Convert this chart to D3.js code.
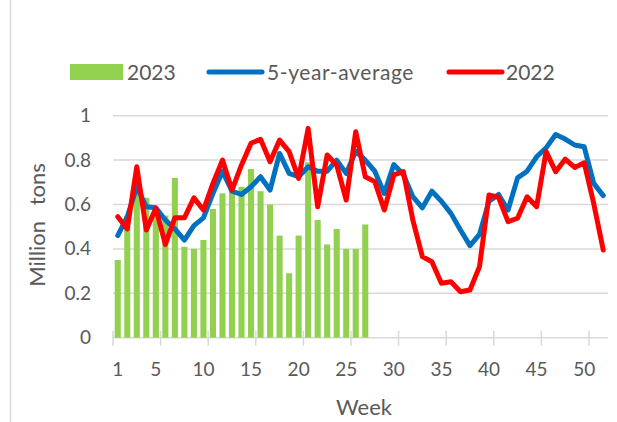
<!DOCTYPE html>
<html><head><meta charset="utf-8">
<script src="https://cdn.jsdelivr.net/npm/d3@7"></script>
<style>
html,body{margin:0;padding:0;background:#fff;}
text{font-family:Lato,"Noto Sans",sans-serif;fill:#595959;}
</style></head>
<body><svg id="c" width="617" height="422"></svg>
<script>
const weeks = d3.range(1, 53);
const xTickLabels = [1, 5, 10, 15, 20, 25, 30, 35, 40, 45, 50];
const yTicks = [0, 0.2, 0.4, 0.6, 0.8, 1];
const seriesNames = ["2023", "5-year-average", "2022"];
const values2023 = [0.35, 0.55, 0.67, 0.63, 0.58, 0.55, 0.72, 0.41, 0.40, 0.44,
  0.58, 0.65, 0.69, 0.68, 0.76, 0.66, 0.60, 0.46, 0.29, 0.46,
  0.79, 0.53, 0.42, 0.49, 0.40, 0.40, 0.51];
const avg5 = [0.46, 0.545, 0.68, 0.59, 0.585, 0.53, 0.49, 0.44, 0.505, 0.54,
  0.65, 0.75, 0.66, 0.645, 0.68, 0.725, 0.665, 0.83, 0.74, 0.725,
  0.77, 0.75, 0.75, 0.80, 0.74, 0.84, 0.80, 0.75, 0.65, 0.78,
  0.735, 0.635, 0.585, 0.66, 0.615, 0.56, 0.485, 0.415, 0.465, 0.615,
  0.645, 0.575, 0.72, 0.75, 0.815, 0.855, 0.915, 0.895, 0.868, 0.86,
  0.695, 0.64];
const values2022 = [0.545, 0.49, 0.77, 0.485, 0.583, 0.42, 0.54, 0.54, 0.63, 0.575,
  0.695, 0.80, 0.665, 0.778, 0.876, 0.894, 0.793, 0.89, 0.838, 0.718,
  0.943, 0.59, 0.823, 0.778, 0.62, 0.928, 0.725, 0.703, 0.575, 0.733,
  0.748, 0.53, 0.365, 0.342, 0.245, 0.252, 0.207, 0.215, 0.32, 0.643,
  0.632, 0.523, 0.538, 0.635, 0.59, 0.838, 0.748, 0.804, 0.767, 0.788,
  0.605, 0.395];

const colors = {"2023": "#92D050", "5-year-average": "#0070C0", "2022": "#FF0000"};
const svg = d3.select("#c");

// chart border (left edge visible)
svg.append("line").attr("x1", 10.5).attr("x2", 10.5).attr("y1", 0).attr("y2", 422)
  .attr("stroke", "#D9D9D9").attr("stroke-width", 1.5);

const x = d3.scaleBand().domain(weeks).range([113, 608]).padding(0);
const y = d3.scaleLinear().domain([0, 1]).range([337.7, 115.7]);

// gridlines
svg.append("g").selectAll("line").data(yTicks).join("line")
  .attr("x1", 113).attr("x2", 608)
  .attr("y1", d => y(d)).attr("y2", d => y(d))
  .attr("stroke", "#D9D9D9").attr("stroke-width", 1.5);

// y axis labels
const yAxis = d3.axisLeft(y).tickValues(yTicks).tickSize(0).tickPadding(0)
  .tickFormat(d => d === 0 ? "0" : d === 1 ? "1" : d.toFixed(1));
const gy = svg.append("g").attr("transform", "translate(91,0)").call(yAxis);
gy.select(".domain").remove();
gy.selectAll("text").style("font-size", "19px").attr("fill", "#595959");

// bars
const bw = x.bandwidth() * 0.64;
svg.append("g").selectAll("rect").data(values2023).join("rect")
  .attr("x", (d, i) => x(weeks[i]) + (x.bandwidth() - bw) / 2)
  .attr("width", bw)
  .attr("y", d => y(d))
  .attr("height", d => y(0) - y(d))
  .attr("fill", colors["2023"]);

// x axis: tick marks at category boundaries every 5 weeks
const boundaryWeeks = [1, 6, 11, 16, 21, 26, 31, 36, 41, 46, 51];
svg.append("g").selectAll("line").data(boundaryWeeks).join("line")
  .attr("x1", d => x(d)).attr("x2", d => x(d))
  .attr("y1", y(0) - 7).attr("y2", y(0) + 8)
  .attr("stroke", "#D9D9D9").attr("stroke-width", 1.5);

const xAxis = d3.axisBottom(x).tickValues(xTickLabels).tickSize(0).tickPadding(0);
const gx = svg.append("g").attr("transform", `translate(0,${y(0) + 25})`).call(xAxis);
gx.select(".domain").remove();
gx.selectAll("text").style("font-size", "19px").attr("fill", "#595959");

// lines
const line = d3.line().x((d, i) => x(weeks[i]) + x.bandwidth() / 2).y(d => y(d))
  .curve(d3.curveLinear);
svg.append("path").datum(avg5).attr("d", line).attr("fill", "none")
  .attr("stroke", colors["5-year-average"]).attr("stroke-width", 5)
  .attr("stroke-linejoin", "round").attr("stroke-linecap", "round");
svg.append("path").datum(values2022).attr("d", line).attr("fill", "none")
  .attr("stroke", colors["2022"]).attr("stroke-width", 5)
  .attr("stroke-linejoin", "round").attr("stroke-linecap", "round");

// axis titles
svg.append("text").attr("transform", "translate(45,225) rotate(-90)")
  .attr("text-anchor", "middle").style("font-size", "22px").style("word-spacing", "10px")
  .text("Million tons");
svg.append("text").attr("x", 364).attr("y", 415)
  .attr("text-anchor", "middle").style("font-size", "22px").text("Week");

// legend
const lg = svg.append("g");
lg.append("rect").attr("x", 70).attr("y", 64).attr("width", 53).attr("height", 16)
  .attr("fill", colors["2023"]);
lg.append("text").attr("x", 127).attr("y", 80).style("font-size", "21px").text(seriesNames[0]);
lg.append("line").attr("x1", 209).attr("x2", 262).attr("y1", 72).attr("y2", 72)
  .attr("stroke", colors["5-year-average"]).attr("stroke-width", 5).attr("stroke-linecap", "round");
lg.append("text").attr("x", 267).attr("y", 80).style("font-size", "21px")
  .style("letter-spacing", "0.6px").text(seriesNames[1]);
lg.append("line").attr("x1", 449).attr("x2", 502).attr("y1", 72).attr("y2", 72)
  .attr("stroke", colors["2022"]).attr("stroke-width", 5).attr("stroke-linecap", "round");
lg.append("text").attr("x", 506).attr("y", 80).style("font-size", "21px").text(seriesNames[2]);
</script></body></html>
